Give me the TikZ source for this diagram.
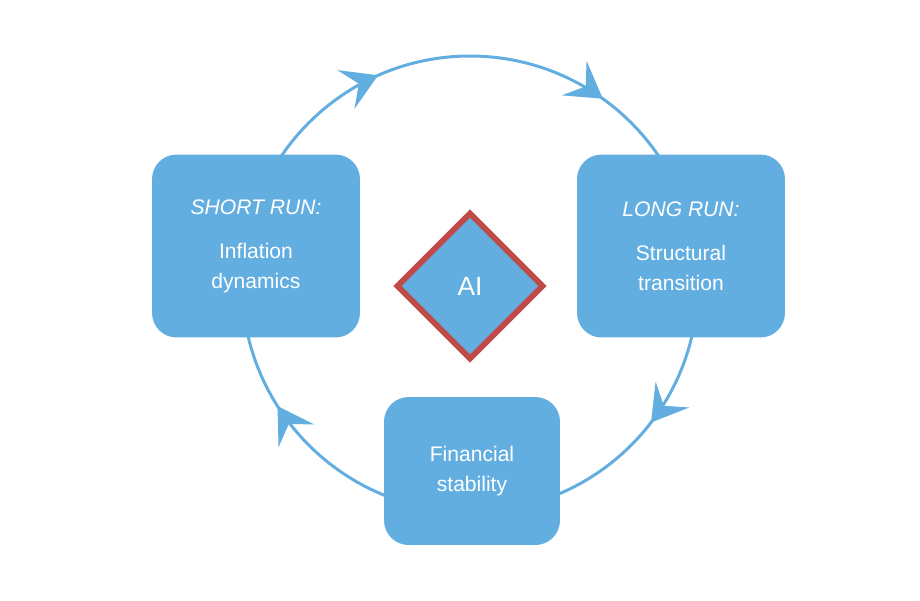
\documentclass[tikz,border=0pt]{standalone}
\usepackage{fontspec}
\setmainfont{Liberation Sans}
\usetikzlibrary{arrows.meta,decorations.markings,shapes.geometric}
\definecolor{skyb}{HTML}{62AEE0}
\definecolor{redb}{HTML}{BE4B48}
\begin{document}
\begin{tikzpicture}[x=0.02cm,y=-0.02cm]

\tikzstyle{box}=[fill=skyb,rounded corners=14pt,text=white,align=center,font=\fontsize{12}{17}\selectfont,inner sep=0pt]
\tikzstyle{cyc}=[skyb,line width=1.7pt,postaction={decorate},
  decoration={markings,
    mark=at position 0.099 with {\arrow{Stealth[length=20pt,width=24pt,inset=8pt]}},
    mark=at position 0.354 with {\arrow{Stealth[length=20pt,width=24pt,inset=8pt]}},
    mark=at position 0.66 with {\arrow{Stealth[length=20pt,width=24pt,inset=8pt]}},
    mark=at position 0.934 with {\arrow{Stealth[length=20pt,width=24pt,inset=8pt]}}}]

\useasboundingbox (0,0) rectangle (920,600);

\coordinate (ctr) at (470,284);
\draw[cyc] (470,56) arc[start angle=90,end angle=-270,radius=4.56cm];

\node[box,minimum width=4.16cm,minimum height=3.66cm] (short) at (256,246)
  {\textit{SHORT RUN:}\\[8pt] Inflation\\dynamics};
\node[box,minimum width=4.16cm,minimum height=3.66cm] (long) at (681,246)
  {\textit{LONG RUN:}\\[8pt] Structural\\transition};
\node[box,minimum width=3.52cm,minimum height=2.96cm] (fin) at (472,471)
  {Financial\\stability};
\node[diamond,fill=skyb,draw=redb,line width=3.4pt,minimum size=2.95cm,
  text=white,font=\fontsize{15}{18}\selectfont] (ai) at (470,286) {AI};

\end{tikzpicture}
\end{document}
